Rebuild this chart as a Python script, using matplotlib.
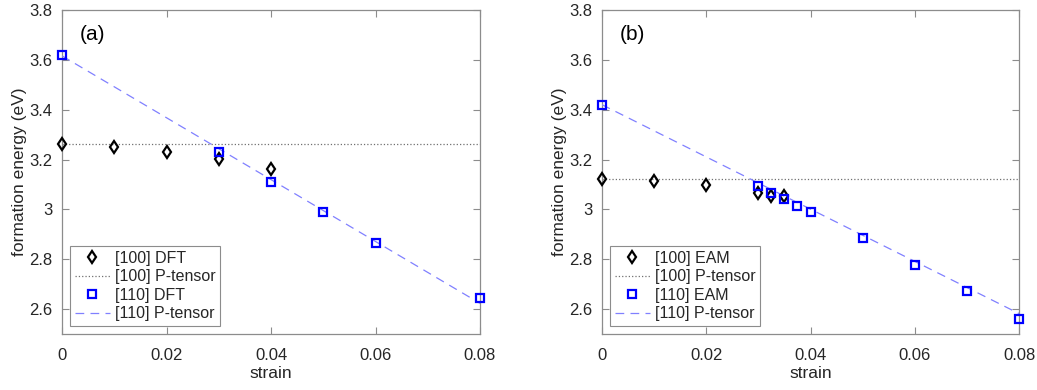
import numpy as np
import matplotlib
matplotlib.use("Agg")
import matplotlib.pyplot as plt

plt.rcParams['font.family'] = ['Liberation Sans', 'DejaVu Sans']

# panel (a): DFT
a_x100 = [0, 0.01, 0.02, 0.03, 0.04]
a_y100 = [3.261, 3.252, 3.229, 3.201, 3.163]
a_x110 = [0, 0.03, 0.04, 0.05, 0.06, 0.08]
a_y110 = [3.620, 3.230, 3.109, 2.988, 2.867, 2.646]
a_p100 = 3.261
a_p110 = [3.616, 2.623]

# panel (b): EAM
b_x100 = [0, 0.01, 0.02, 0.03, 0.0325, 0.035]
b_y100 = [3.121, 3.115, 3.099, 3.067, 3.055, 3.053]
b_x110 = [0, 0.03, 0.0325, 0.035, 0.0375, 0.04, 0.05, 0.06, 0.07, 0.08]
b_y110 = [3.420, 3.095, 3.067, 3.040, 3.015, 2.990, 2.884, 2.777, 2.671, 2.561]
b_p100 = 3.121
b_p110 = [3.420, 2.582]

line_ends = [0, 0.08]
yticks = [2.6, 2.8, 3.0, 3.2, 3.4, 3.6, 3.8]
ytick_labels = ['2.6', '2.8', '3', '3.2', '3.4', '3.6', '3.8']
xticks = [0, 0.02, 0.04, 0.06, 0.08]
xtick_labels = ['0', '0.02', '0.04', '0.06', '0.08']

fig = plt.figure(figsize=(10.37, 3.9), dpi=100)
ax_a = fig.add_axes([62/1037, 1-334/390, 418/1037, 324/390])
ax_b = fig.add_axes([602/1037, 1-334/390, 417/1037, 324/390])

spine_c = '#8c8c8c'
text_c = '#262626'


def panel(ax, x100, y100, x110, y110, p100, p110, name, tag):
    ax.plot(x100, y100, 'd', color='k', mfc='none', ms=6.5, mew=1.6,
            label='[100] ' + name, zorder=4, clip_on=False)
    ax.plot(line_ends, [p100, p100], ':', color='#707070', lw=0.9,
            label='[100] P-tensor', zorder=2)
    ax.plot(x110, y110, 's', color='#0000ff', mfc='none', ms=5.5, mew=1.6,
            label='[110] ' + name, zorder=5, clip_on=False)
    ax.plot(line_ends, p110, '--', color='#8080ff', lw=0.9, dashes=(7, 5),
            label='[110] P-tensor', zorder=3)
    ax.set_xlim(0, 0.08)
    ax.set_ylim(2.5, 3.8)
    ax.set_xticks(xticks)
    ax.set_xticklabels(xtick_labels)
    ax.set_yticks(yticks)
    ax.set_yticklabels(ytick_labels)
    ax.tick_params(direction='in', length=5, width=0.8, color=spine_c,
                   labelcolor=text_c, labelsize=12, top=True, right=True)
    ax.tick_params(axis='x', pad=10)
    ax.tick_params(axis='y', pad=7)
    for s in ax.spines.values():
        s.set_color(spine_c)
        s.set_linewidth(0.9)
    ax.set_xlabel('strain', fontsize=12.5, color=text_c)
    ax.set_ylabel('formation energy (eV)', fontsize=12.5, color=text_c)
    ax.xaxis.set_label_coords(0.5, -0.098)
    ax.yaxis.set_label_coords(-0.083, 0.5)
    ax.text(0.043, 0.955, tag, transform=ax.transAxes, fontsize=15,
            color='k', va='top', ha='left')
    leg = ax.legend(loc='lower left', fontsize=11.5, frameon=True,
                    fancybox=False, framealpha=1, edgecolor=spine_c,
                    borderaxespad=0.5, handlelength=2.2, handletextpad=0.3,
                    labelspacing=0.22, borderpad=0.3)
    leg.get_frame().set_linewidth(0.8)
    for t in leg.get_texts():
        t.set_color(text_c)


panel(ax_a, a_x100, a_y100, a_x110, a_y110, a_p100, a_p110, 'DFT', '(a)')
panel(ax_b, b_x100, b_y100, b_x110, b_y110, b_p100, b_p110, 'EAM', '(b)')

fig.savefig('out.png', dpi=100)
